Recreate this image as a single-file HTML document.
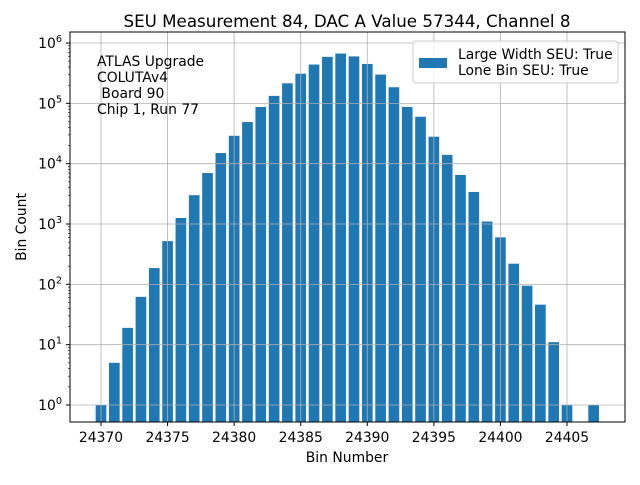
<!DOCTYPE html>
<html><head><meta charset="utf-8"><style>
body{margin:0;background:#fff;}
svg{font-family:"DejaVu Sans","Liberation Sans",sans-serif;}
</style></head><body>
<svg id="chart" width="640" height="480" xmlns="http://www.w3.org/2000/svg">
<rect width="640" height="480" fill="#fff"/>
<text x="347" y="27" font-size="16.7" text-anchor="middle">SEU Measurement 84, DAC A Value 57344, Channel 8</text>
<g id="bars"></g>
<g id="grid"></g>
<rect x="70" y="32" width="555" height="390" fill="none" stroke="#000" stroke-width="1"/>
<g id="xticks"></g>
<g id="yticks"></g>
<text x="347" y="462" font-size="13.9" text-anchor="middle">Bin Number</text>
<text x="26" y="227" font-size="13.9" text-anchor="middle" transform="rotate(-90 26 227)">Bin Count</text>
<g font-size="13.9" style="white-space:pre">
<text x="97" y="66">ATLAS Upgrade</text>
<text x="97" y="82">COLUTAv4</text>
<text x="97" y="98" xml:space="preserve"> Board 90</text>
<text x="97" y="114">Chip 1, Run 77</text>
</g>
<g>
<rect x="413" y="41" width="205" height="42" rx="3" fill="#fff" fill-opacity="0.8" stroke="#ccc"/>
<rect x="419" y="58" width="28" height="10" fill="#1f77b4"/>
<text x="458" y="59" font-size="13.9">Large Width SEU: True</text>
<text x="458" y="75" font-size="13.9">Lone Bin SEU: True</text>
</g>
</svg>
<script>
const bins=[24370,24371,24372,24373,24374,24375,24376,24377,24378,24379,24380,24381,24382,24383,24384,24385,24386,24387,24388,24389,24390,24391,24392,24393,24394,24395,24396,24397,24398,24399,24400,24401,24402,24403,24404,24405,24407];
const counts=[1,5,19,62,186,520,1260,3000,7000,15000,29000,49000,87000,133000,215000,310000,440000,590000,670000,600000,450000,300000,185000,87000,60000,28000,14000,6500,3400,1100,600,220,95,46,11,1,1];
const xTicks=[24370,24375,24380,24385,24390,24395,24400,24405];
const yTicks=[0,1,2,3,4,5,6];
const NS="http://www.w3.org/2000/svg";
const px=v=>101+(v-24370)*466/35;
const py=v=>405-Math.log10(v)*60.33;
function mk(t,a,p){const e=document.createElementNS(NS,t);for(const k in a)e.setAttribute(k,a[k]);p.appendChild(e);return e;}
const grid=document.getElementById('grid'),bars=document.getElementById('bars'),xt=document.getElementById('xticks'),yt=document.getElementById('yticks');
xTicks.forEach(t=>{const x=px(t);
mk('line',{x1:x,x2:x,y1:32,y2:422,stroke:'#b0b0b0','stroke-width':0.8},grid);
mk('line',{x1:x,x2:x,y1:422,y2:426,stroke:'#000'},xt);
const tx=mk('text',{x:x,y:442,'font-size':13.9,'text-anchor':'middle'},xt);tx.textContent=t;

});
yTicks.forEach(t=>{const y=py(Math.pow(10,t));
mk('line',{x1:70,x2:625,y1:y,y2:y,stroke:'#b0b0b0','stroke-width':0.8},grid);
mk('line',{x1:66,x2:70,y1:y,y2:y,stroke:'#000'},yt);
const tx=mk('text',{x:62,y:y+5,'font-size':13.9,'text-anchor':'end'},yt);
tx.innerHTML='10<tspan font-size="9.7" dy="-6">'+t+'</tspan>';


for(let m=2;m<10&&t<6;m++){const ym=py(m*Math.pow(10,t));mk('line',{x1:68,x2:70,y1:ym,y2:ym,stroke:'#000','stroke-width':0.6},yt);}});
const w=0.8*466/35;
bins.forEach((b,i)=>{const y=py(counts[i]);
const r=mk('rect',{x:px(b)-w/2,y:y,width:w,height:422-y,fill:'#1f77b4'},bars);

});
</script>
</body></html>
